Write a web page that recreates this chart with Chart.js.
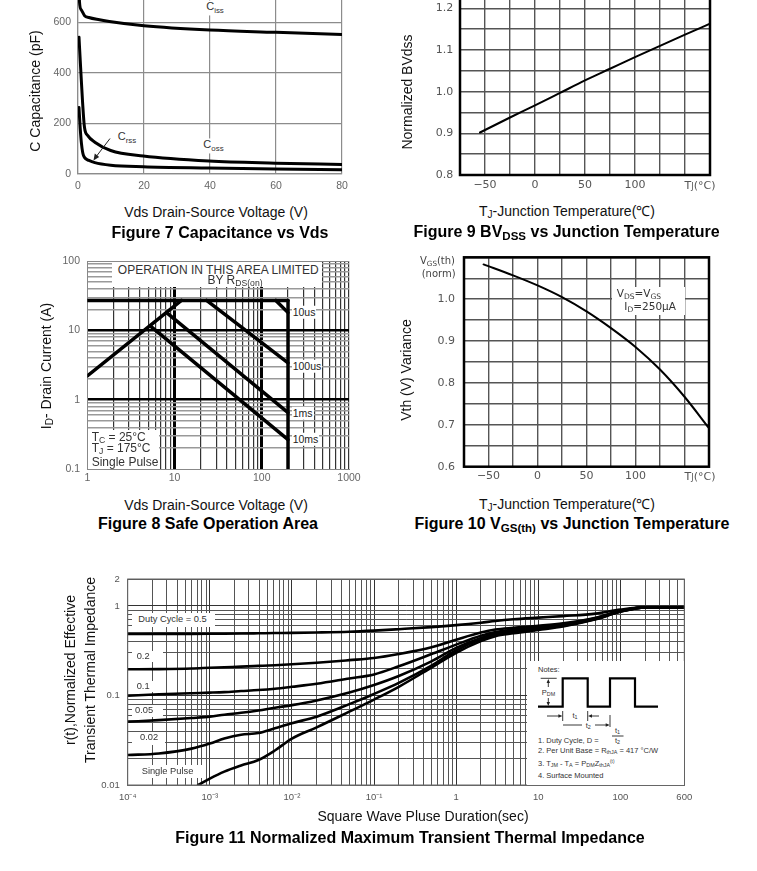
<!DOCTYPE html>
<html><head><meta charset="utf-8">
<script src="https://cdn.jsdelivr.net/npm/chart.js@4.4.0/dist/chart.umd.min.js"></script>
<style>
html,body{margin:0;padding:0;background:#fff;}
body{width:757px;height:871px;position:relative;overflow:hidden;font-family:"Liberation Sans",Arial,sans-serif;color:#111;}
canvas{position:absolute;}
.c{position:absolute;white-space:nowrap;line-height:1;transform:translate(-50%,-50%);}
.l{position:absolute;white-space:nowrap;line-height:1;transform:translate(0,-50%);}
.rot{transform:translate(-50%,-50%) rotate(-90deg);}
.ttl{font-weight:bold;font-size:16px;color:#000;}
.ax{font-size:14px;color:#111;}
.sb{font-size:72%;vertical-align:-0.28em;}
.sp{font-size:62%;vertical-align:0.55em;}
.wb{background:#fff;}
.box{position:absolute;background:#fff;}
.dj{font-family:"DejaVu Sans",sans-serif;}
.note{font-size:7.5px;color:#333;}
svg{position:absolute;left:0;top:0;}
</style>
</head><body>
<canvas id="c7" width="380" height="260" style="left:0px;top:-60px;width:380px;height:260px"></canvas>
<canvas id="c9" width="372" height="260" style="left:385px;top:-60px;width:372px;height:260px"></canvas>
<canvas id="c8" width="370" height="255" style="left:0px;top:240px;width:370px;height:255px"></canvas>
<canvas id="c10" width="372" height="265" style="left:385px;top:230px;width:372px;height:265px"></canvas>
<canvas id="c11" width="645" height="245" style="left:60px;top:565px;width:645px;height:245px"></canvas>

<!-- Figure 7 text -->
<div class="c ax rot" style="left:35px;top:91px">C Capacitance (pF)</div>
<div class="c ax" style="left:216px;top:212px">Vds Drain-Source Voltage (V)</div>
<div class="c ttl" style="left:220px;top:233px">Figure 7 Capacitance vs Vds</div>
<div class="c wb" style="left:215px;top:7.5px;font-size:11px;color:#333;padding:1px 3px">C<span class="sb">iss</span></div>
<div class="c wb" style="left:213.5px;top:146px;font-size:11px;color:#333;padding:1px 3px">C<span class="sb">oss</span></div>
<div class="c wb" style="left:127px;top:138px;font-size:11px;color:#333;padding:1px 2px">C<span class="sb">rss</span></div>

<!-- Figure 9 text -->
<div class="c ax rot" style="left:406.7px;top:91.5px">Normalized BVdss</div>
<div class="c ax" style="left:567px;top:212px">T<span class="sb">J</span>-Junction Temperature(℃)</div>
<div class="c ttl" style="left:566.5px;top:233px">Figure 9 BV<span class="sb">DSS</span> vs Junction Temperature</div>
<div class="c dj" style="left:700px;top:185px;font-size:11px;color:#555">T<span style="font-size:75%">J</span>(°C)</div>

<!-- Figure 8 text -->
<div class="c ax rot" style="left:46.7px;top:366px">I<span class="sb">D</span>- Drain Current (A)</div>
<div class="c ax" style="left:216px;top:505px">Vds Drain-Source Voltage (V)</div>
<div class="c ttl" style="left:208px;top:524px">Figure 8 Safe Operation Area</div>
<div class="box" style="left:111.7px;top:262px;width:210px;height:25px"></div>
<div class="c" style="left:218.3px;top:270px;font-size:12px;color:#333">OPERATION IN THIS AREA LIMITED</div>
<div class="c" style="left:235px;top:280.5px;font-size:12px;color:#333">BY R<span class="sb">DS(on)</span></div>
<div class="box" style="left:88px;top:430px;width:71.3px;height:38.5px"></div>
<div class="l" style="left:91.7px;top:437.7px;font-size:12px;color:#333">T<span class="sb">C</span> = 25°C</div>
<div class="l" style="left:91.7px;top:449.3px;font-size:12px;color:#333">T<span class="sb">J</span> = 175°C</div>
<div class="l" style="left:91.7px;top:461.7px;font-size:12px;color:#333">Single Pulse</div>
<div class="l wb" style="left:291.7px;top:312px;font-size:10.5px;color:#222;padding:1px 1px">10us</div>
<div class="l wb" style="left:291.7px;top:366px;font-size:10.5px;color:#222;padding:1px 1px">100us</div>
<div class="l wb" style="left:291.7px;top:413.3px;font-size:10.5px;color:#222;padding:1px 1px">1ms</div>
<div class="l wb" style="left:291.7px;top:439px;font-size:10.5px;color:#222;padding:1px 1px">10ms</div>

<!-- Figure 10 text -->
<div class="c ax rot" style="left:405.7px;top:370px">Vth (V) Variance</div>
<div class="c dj" style="left:437.5px;top:261.7px;font-size:10px;color:#444">V<span class="sb">GS</span>(th)</div>
<div class="c dj" style="left:438.7px;top:274px;font-size:10px;color:#444">(norm)</div>
<div class="box" style="left:611.7px;top:286.7px;width:73.3px;height:28.3px"></div>
<div class="l dj" style="left:616.7px;top:294px;font-size:10.5px;color:#333">V<span class="sb">DS</span>=V<span class="sb">GS</span></div>
<div class="l dj" style="left:624.3px;top:306.7px;font-size:10.5px;color:#333">I<span class="sb">D</span>=250µA</div>
<div class="c dj" style="left:700px;top:475.7px;font-size:11px;color:#555">T<span style="font-size:75%">J</span>(°C)</div>
<div class="c ax" style="left:567px;top:505px">T<span class="sb">J</span>-Junction Temperature(℃)</div>
<div class="c ttl" style="left:572px;top:525px">Figure 10 V<span class="sb">GS(th)</span> vs Junction Temperature</div>

<!-- Figure 11 text -->
<div class="c ax rot" style="left:70px;top:670px">r(t),Normalized Effective</div>
<div class="c ax rot" style="left:90px;top:670px">Transient Thermal Impedance</div>
<div class="c ax" style="left:423px;top:816px">Square Wave Pluse Duration(sec)</div>
<div class="c ttl" style="left:410px;top:838px">Figure 11 Normalized Maximum Transient Thermal Impedance</div>
<div class="box" style="left:131.7px;top:613px;width:83.3px;height:13.7px"></div>
<div class="l" style="left:138.3px;top:620px;font-size:9.3px;color:#333">Duty Cycle = 0.5</div>
<div class="box" style="left:131.7px;top:651px;width:31.6px;height:11.3px"></div>
<div class="l" style="left:136.7px;top:656.7px;font-size:9.3px;color:#333">0.2</div>
<div class="box" style="left:131.7px;top:681px;width:26.3px;height:10.7px"></div>
<div class="l" style="left:136.7px;top:686.5px;font-size:9.3px;color:#333">0.1</div>
<div class="box" style="left:131.7px;top:705px;width:31.6px;height:11.7px"></div>
<div class="l" style="left:135px;top:711px;font-size:9.3px;color:#333">0.05</div>
<div class="box" style="left:131.7px;top:731.7px;width:33.3px;height:13.3px"></div>
<div class="l" style="left:140px;top:738.3px;font-size:9.3px;color:#333">0.02</div>
<div class="box" style="left:131.7px;top:765px;width:71.6px;height:13.3px"></div>
<div class="l" style="left:141.7px;top:771.7px;font-size:9.3px;color:#333">Single Pulse</div>
<div class="box" style="left:527px;top:661px;width:156.5px;height:123.5px"></div>
<div class="l note" style="left:538px;top:670px">Notes:</div>
<div class="c note" style="left:548.5px;top:692.5px">P<span class="sb">DM</span></div>
<div class="c note" style="left:575px;top:715.5px">t<span class="sb">1</span></div>
<div class="c note" style="left:588.3px;top:725.5px">t<span class="sb">2</span></div>
<div class="l note" style="left:538px;top:740.7px">1. Duty Cycle, D =</div>
<div class="c note" style="left:617.5px;top:731px">t<span class="sb">1</span></div>
<div class="c note" style="left:617.5px;top:740.7px">t<span class="sb">2</span></div>
<div class="l note" style="left:538px;top:750.7px">2. Per Unit Base = R<span class="sb">thJA</span> = 417 °C/W</div>
<div class="l note" style="left:538px;top:764px">3. T<span class="sb">JM</span> - T<span class="sb">A</span> = P<span class="sb">DM</span>Z<span class="sb">thJA</span><span class="sp">(t)</span></div>
<div class="l note" style="left:538px;top:776px">4. Surface Mounted</div>

<svg width="757" height="871" viewBox="0 0 757 871">
  <g stroke="#222" fill="none" stroke-width="1">
    <line x1="110" y1="138.5" x2="95.5" y2="157.5"/>
  </g>
  <polygon points="93.5,160.5 94.8,153.6 99.2,157.0" fill="#222"/>
  <polyline points="538,706.7 562.7,706.7 562.7,678.3 587.7,678.3 587.7,706.7 610,706.7 610,678.3 635,678.3 635,706.7 658,706.7" fill="none" stroke="#000" stroke-width="2.2"/>
  <g stroke="#222" stroke-width="0.9" fill="none">
    <line x1="540.7" y1="678.3" x2="556.7" y2="678.3"/>
    <line x1="548.3" y1="681" x2="548.3" y2="687"/>
    <line x1="548.3" y1="698" x2="548.3" y2="704"/>
    <line x1="547" y1="716" x2="560" y2="716"/>
    <line x1="590.5" y1="716" x2="599" y2="716"/>
    <line x1="562.7" y1="711" x2="562.7" y2="721"/>
    <line x1="587.7" y1="711" x2="587.7" y2="721"/>
    <line x1="563" y1="725" x2="582" y2="725"/>
    <line x1="595" y1="725" x2="607.5" y2="725"/>
    <line x1="610" y1="715" x2="610" y2="727"/>
    <line x1="612" y1="736" x2="623.5" y2="736"/>
  </g>
  <g fill="#222">
    <polygon points="548.3,679 546.6,683 550,683"/>
    <polygon points="548.3,706 546.6,702 550,702"/>
    <polygon points="562.4,716 558.4,714.3 558.4,717.7"/>
    <polygon points="588,716 592,714.3 592,717.7"/>
    <polygon points="609.7,725 605.7,723.3 605.7,726.7"/>
  </g>
</svg>

<script>
// ---------------- DATA ----------------
// Figure 7: capacitance vs Vds
const capCissV  = [0.3, 0.45, 1.0, 2.0, 3.3, 6.5, 9.5, 20, 40, 60, 80];
const capCissPF = [800, 682, 650, 627, 620, 611, 604, 587, 570, 561, 552];
const capCossV  = [0.3, 0.8, 1.36, 1.96, 2.97, 5.1, 9.9, 19.8, 39.7, 59.8, 80];
const capCossPF = [542, 420, 290, 185, 152, 126, 93, 71, 51, 43, 38];
const capCrssV  = [0.3, 0.65, 1.06, 1.66, 3.3, 5.1, 9.9, 19.8, 39.7, 59.8, 80];
const capCrssPF = [263, 185, 119, 73, 54, 45, 35, 29, 24, 20, 17];
const capXTicks = [0, 20, 40, 60, 80];
const capXLabels = ['0', '20', '40', '60', '80'];
const capYTicks = [0, 200, 400, 600, 800];
const capYLabels = ['0', '200', '400', '600', '800'];

// Figure 9: BVdss vs Tj
const bvTempC = [-55, -25, 0, 25, 50, 75, 100, 125, 150, 175];
const bvNorm  = [0.902, 0.938, 0.967, 0.997, 1.027, 1.055, 1.083, 1.110, 1.137, 1.163];
const tjTicks = [-75, -50, -25, 0, 25, 50, 75, 100, 125, 150, 175];
const tjLabelVals = [-50, 0, 50, 100];
const tjLabels = ['\u221250', '0', '50', '100'];
const bvYTicks = [0.8, 0.85, 0.9, 0.95, 1.0, 1.05, 1.1, 1.15, 1.2, 1.25, 1.3];
const bvYLabelVals = [0.8, 0.9, 1.0, 1.1, 1.2];
const bvYLabels = ['0.8', '0.9', '1.0', '1.1', '1.2'];

// Figure 8: safe operating area (Vds, Id pairs of each boundary)
const soaRdsV   = [1, 12],      soaRdsI   = [2.2, 27];
const soaIdV    = [1, 200],     soaIdI    = [27, 27];
const soaVdsV   = [200, 200],   soaVdsI   = [27, 0.1];
const soa10usV  = [145, 200],   soa10usI  = [27, 18];
const soa100usV = [23.3, 200],  soa100usI = [27, 3.4];
const soa1msV   = [8.1, 200],   soa1msI   = [18, 0.65];
const soa10msV  = [5.3, 200],   soa10msI  = [11.5, 0.265];
const soaXLabelVals = [1, 10, 100, 1000];
const soaXLabels = ['1', '10', '100', '1000'];
const soaYLabelVals = [0.1, 1, 10, 100];
const soaYLabels = ['0.1', '1', '10', '100'];

// Figure 10: Vgs(th) vs Tj
const vthTempC = [-55, -25, 0, 25, 50, 75, 100, 125, 150, 175];
const vthNorm  = [1.083, 1.057, 1.033, 1.005, 0.971, 0.931, 0.886, 0.832, 0.767, 0.692];
const vthYTicks = [0.6, 0.65, 0.7, 0.75, 0.8, 0.85, 0.9, 0.95, 1.0, 1.05, 1.1];
const vthYLabelVals = [0.6, 0.7, 0.8, 0.9, 1.0];
const vthYLabels = ['0.6', '0.7', '0.8', '0.9', '1.0'];

// Figure 11: transient thermal impedance
const zthTime = [1e-4, 2.4e-4, 6e-4, 1e-3, 1.5e-3, 2.4e-3, 3.9e-3, 6.2e-3, 1e-2, 2e-2, 5e-2, 0.1, 0.2, 0.5, 1, 2, 3, 5, 10, 20, 50, 100, 200, 600];
const zthD05  = [0.486, 0.487, 0.488, 0.489, 0.49, 0.492, 0.495, 0.498, 0.50, 0.505, 0.515, 0.53, 0.55, 0.58, 0.61, 0.65, 0.68, 0.71, 0.74, 0.77, 0.82, 0.91, 0.965, 0.965];
const zthD02  = [0.196, 0.197, 0.2, 0.204, 0.207, 0.21, 0.214, 0.218, 0.223, 0.232, 0.248, 0.262, 0.29, 0.345, 0.42, 0.505, 0.545, 0.57, 0.60, 0.64, 0.74, 0.88, 0.965, 0.965];
const zthD01  = [0.0995, 0.103, 0.106, 0.1075, 0.109, 0.112, 0.115, 0.119, 0.125, 0.135, 0.155, 0.172, 0.212, 0.29, 0.37, 0.465, 0.51, 0.545, 0.575, 0.62, 0.73, 0.875, 0.965, 0.965];
const zthD005 = [0.051, 0.053, 0.056, 0.058, 0.061, 0.064, 0.068, 0.073, 0.078, 0.088, 0.108, 0.131, 0.165, 0.24, 0.34, 0.44, 0.49, 0.525, 0.56, 0.605, 0.72, 0.87, 0.965, 0.965];
const zthD002 = [0.0216, 0.0225, 0.0255, 0.029, 0.033, 0.0365, 0.038, 0.043, 0.049, 0.058, 0.08, 0.104, 0.138, 0.215, 0.32, 0.425, 0.475, 0.51, 0.55, 0.60, 0.715, 0.865, 0.965, 0.965];
const zthSingleTime = [7.2e-4, 1e-3, 1.5e-3, 2.4e-3, 3.9e-3, 6.2e-3, 1e-2, 2e-2, 5e-2, 0.1, 0.2, 0.5, 1, 2, 3, 5, 10, 20, 50, 100, 200, 600];
const zthSingle = [0.01, 0.0118, 0.0141, 0.0165, 0.019, 0.0243, 0.033, 0.044, 0.066, 0.09, 0.125, 0.205, 0.30, 0.405, 0.46, 0.495, 0.54, 0.59, 0.71, 0.86, 0.965, 0.965];
const zthXLabelVals = [1e-4, 1e-3, 1e-2, 0.1, 1, 10, 100, 600];
const zthXLabels = ['10\u207B\u2074', '10\u207B\u00B3', '10\u207B\u00B2', '10\u207B\u00B9', '1', '10', '100', '600'];
const zthYLabelVals = [0.01, 0.1, 1, 2];
const zthYLabels = ['0.01', '0.1', '1', '2'];

// ---------------- HELPERS ----------------
const SANS = '"Liberation Sans", Arial, sans-serif';
const DEJ = '"DejaVu Sans", sans-serif';
Chart.defaults.font.family = SANS;

function toXY(xs, ys) { return xs.map((x, i) => ({ x: x, y: ys[i] })); }
function near(a, v) { return Math.abs(a - v) <= 1e-6 * Math.max(Math.abs(a), 1e-12); }
function labeler(vals, labels) {
  return v => { const i = vals.findIndex(a => near(a, v)); return i < 0 ? '' : labels[i]; };
}
// grid positions for log axes: 1..9 x 10^e between lo and hi
function logGrid(lo, hi) {
  const out = [];
  for (let e = Math.floor(Math.log10(lo)) - 1; e <= Math.ceil(Math.log10(hi)); e++) {
    for (let m = 1; m <= 9; m++) {
      const v = Number(m + 'e' + e);
      if (v >= lo * (1 - 1e-9) && v <= hi * (1 + 1e-9)) out.push(v);
    }
  }
  return out;
}
function isDecade(v) { const l = Math.log10(v); return Math.abs(l - Math.round(l)) < 1e-9; }

function scale(o) {
  return {
    type: o.type, min: o.min, max: o.max,
    afterBuildTicks: s => { s.ticks = o.ticks.map(v => ({ value: v })); },
    afterFit: s => { if (o.w != null) s.width = o.w; if (o.h != null) s.height = o.h; },
    grid: { drawTicks: false, color: o.gridColor, lineWidth: o.gridWidth },
    border: { display: o.border !== false, color: o.borderColor || '#888', width: o.borderWidth || 1 },
    ticks: {
      autoSkip: false, maxRotation: 0, minRotation: 0, padding: o.pad,
      color: o.tickColor || '#555', font: { family: o.family || SANS, size: o.size || 11 },
      callback: labeler(o.labelVals, o.labels)
    }
  };
}
function base(pad) {
  return {
    responsive: false, animation: false, events: [],
    layout: { padding: pad },
    plugins: { legend: { display: false }, tooltip: { enabled: false } },
    elements: { point: { radius: 0 } }
  };
}
function ds(data, w, smooth) {
  return {
    data: data, borderColor: '#000', borderWidth: w, pointRadius: 0, fill: false,
    borderCapStyle: 'round', borderJoinStyle: 'round',
    cubicInterpolationMode: smooth ? 'monotone' : 'default', tension: 0
  };
}
const frame = {
  id: 'frame',
  afterDraw(chart, args, opts) {
    if (!opts || !opts.width) return;
    const a = chart.chartArea, ctx = chart.ctx;
    ctx.save(); ctx.strokeStyle = opts.color; ctx.lineWidth = opts.width;
    ctx.strokeRect(a.left, a.top, a.right - a.left, a.bottom - a.top);
    ctx.restore();
  }
};

// ---------------- FIGURE 7 ----------------
{
  const o = base({ left: 18, right: 38, top: 32, bottom: 0 });
  o.scales = {
    x: scale({ type: 'linear', min: 0, max: 80, ticks: capXTicks, labelVals: capXTicks, labels: capXLabels,
      h: 26, pad: 6, size: 10.5, tickColor: '#666', gridColor: '#8c8c8c', gridWidth: 1.2, borderColor: '#8c8c8c', borderWidth: 1.2 }),
    y: scale({ type: 'linear', min: 0, max: 800, ticks: capYTicks, labelVals: capYTicks, labels: capYLabels,
      w: 60, pad: 7, size: 10.5, tickColor: '#666', gridColor: '#8c8c8c', gridWidth: 1.2, borderColor: '#8c8c8c', borderWidth: 1.2 })
  };
  new Chart(document.getElementById('c7'), { type: 'line', data: { datasets: [
    ds(toXY(capCissV, capCissPF), 3, true),
    ds(toXY(capCossV, capCossPF), 3, true),
    ds(toXY(capCrssV, capCrssPF), 3, true)
  ] }, options: o });
}

// ---------------- FIGURE 9 ----------------
{
  const o = base({ left: 15, right: 47, top: 26.7, bottom: 0 });
  o.plugins.frame = { color: '#000', width: 2.5 };
  o.scales = {
    x: scale({ type: 'linear', min: -75, max: 175, ticks: tjTicks, labelVals: tjLabelVals, labels: tjLabels,
      h: 25, pad: 3.5, family: DEJ, size: 11, tickColor: '#555', gridColor: '#555', gridWidth: 1.4, border: false }),
    y: scale({ type: 'linear', min: 0.8, max: 1.3, ticks: bvYTicks, labelVals: bvYLabelVals, labels: bvYLabels,
      w: 60, pad: 6.7, family: DEJ, size: 11, tickColor: '#555', gridColor: '#555', gridWidth: 1.4, border: false })
  };
  new Chart(document.getElementById('c9'), { type: 'line', data: { datasets: [
    ds(toXY(bvTempC, bvNorm), 2, true)
  ] }, options: o, plugins: [frame] });
}

// ---------------- FIGURE 8 ----------------
{
  const o = base({ left: 32.3, right: 21, top: 21, bottom: 1 });
  o.scales = {
    x: scale({ type: 'logarithmic', min: 1, max: 1000, ticks: logGrid(1, 1000), labelVals: soaXLabelVals, labels: soaXLabels,
      h: 25, pad: 2.7, size: 10.5, tickColor: '#666', borderColor: '#888', borderWidth: 1,
      gridColor: c => { const v = c.tick.value; return (near(10, v) || near(100, v)) ? '#000' : (near(1, v) ? '#888' : '#333'); },
      gridWidth: c => { const v = c.tick.value; return (near(10, v) || near(100, v)) ? 3 : (near(1, v) ? 1 : 1.2); } }),
    y: scale({ type: 'logarithmic', min: 0.1, max: 100, ticks: logGrid(0.1, 100), labelVals: soaYLabelVals, labels: soaYLabels,
      w: 55, pad: 7.3, size: 10.5, tickColor: '#666', borderColor: '#888', borderWidth: 1,
      gridColor: c => { const v = c.tick.value; return (near(1, v) || near(10, v)) ? '#000' : ((near(0.1, v) || near(100, v)) ? '#888' : '#999'); },
      gridWidth: c => { const v = c.tick.value; return (near(1, v) || near(10, v)) ? 2.6 : ((near(0.1, v) || near(100, v)) ? 1 : 1.4); } })
  };
  new Chart(document.getElementById('c8'), { type: 'line', data: { datasets: [
    ds(toXY(soaRdsV, soaRdsI), 3.5, false),
    ds(toXY(soaIdV, soaIdI), 3.5, false),
    ds(toXY(soaVdsV, soaVdsI), 3.5, false),
    ds(toXY(soa10usV, soa10usI), 3.5, false),
    ds(toXY(soa100usV, soa100usI), 3.5, false),
    ds(toXY(soa1msV, soa1msI), 3.5, false),
    ds(toXY(soa10msV, soa10msI), 3.5, false)
  ] }, options: o });
}

// ---------------- FIGURE 10 ----------------
{
  const o = base({ left: 19, right: 48, top: 27.3, bottom: 3.3 });
  o.plugins.frame = { color: '#000', width: 2.5 };
  o.scales = {
    x: scale({ type: 'linear', min: -75, max: 175, ticks: tjTicks, labelVals: tjLabelVals, labels: tjLabels,
      h: 25, pad: 2.4, family: DEJ, size: 11, tickColor: '#555', gridColor: '#555', gridWidth: 1.4, border: false }),
    y: scale({ type: 'linear', min: 0.6, max: 1.1, ticks: vthYTicks, labelVals: vthYLabelVals, labels: vthYLabels,
      w: 60, pad: 9, family: DEJ, size: 11, tickColor: '#555', gridColor: '#555', gridWidth: 1.4, border: false })
  };
  new Chart(document.getElementById('c10'), { type: 'line', data: { datasets: [
    ds(toXY(vthTempC, vthNorm), 2, true)
  ] }, options: o, plugins: [frame] });
}

// ---------------- FIGURE 11 ----------------
{
  const o = base({ left: 22.7, right: 20.7, top: 14, bottom: 3 });
  o.plugins.frame = { color: '#666', width: 1 };
  o.scales = {
    x: scale({ type: 'logarithmic', min: 1e-4, max: 600, ticks: logGrid(1e-4, 600), labelVals: zthXLabelVals, labels: zthXLabels,
      h: 22, pad: 6.6, size: 9.5, tickColor: '#555', borderColor: '#666', borderWidth: 1,
      gridColor: c => isDecade(c.tick.value) ? '#333' : '#555', gridWidth: 1 }),
    y: scale({ type: 'logarithmic', min: 0.01, max: 2, ticks: logGrid(0.01, 2), labelVals: zthYLabelVals, labels: zthYLabels,
      w: 45, pad: 8, size: 9.5, tickColor: '#555', borderColor: '#666', borderWidth: 1,
      gridColor: c => isDecade(c.tick.value) ? '#333' : '#555', gridWidth: 1 })
  };
  new Chart(document.getElementById('c11'), { type: 'line', data: { datasets: [
    ds(toXY(zthTime, zthD05), 2.6, true),
    ds(toXY(zthTime, zthD02), 2.6, true),
    ds(toXY(zthTime, zthD01), 2.6, true),
    ds(toXY(zthTime, zthD005), 2.6, true),
    ds(toXY(zthTime, zthD002), 2.6, true),
    ds(toXY(zthSingleTime, zthSingle), 2.6, true)
  ] }, options: o, plugins: [frame] });
}
</script>
</body></html>
